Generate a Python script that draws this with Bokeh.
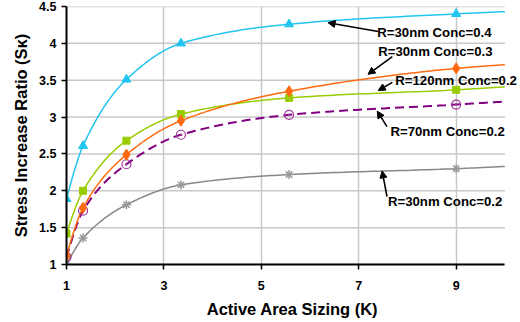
import numpy as np
from bokeh.plotting import figure
from bokeh.models import Arrow, NormalHead, Label, FixedTicker, Range1d
from bokeh.embed import file_html
from bokeh.resources import INLINE

# ---- data ----
K = [1, 1.34, 2.23, 3.35, 5.57, 9, 10]
s_r30_c04 = [1.89, 2.61, 3.51, 4.00, 4.26, 4.40, 4.43]
s_r30_c03 = [1.12, 1.77, 2.49, 2.95, 3.35, 3.66, 3.71]
s_r120_c02 = [1.42, 2.00, 2.68, 3.04, 3.26, 3.37, 3.41]
s_r70_c02 = [1.10, 1.73, 2.36, 2.76, 3.03, 3.17, 3.21]
s_r30_c02 = [1.00, 1.36, 1.81, 2.08, 2.22, 2.30, 2.33]
n_marked = 6  # markers are drawn on the first six points
x_min, x_max = 1, 10
x_ticks = [1, 3, 5, 7, 9]
y_ticks = [1, 1.5, 2, 2.5, 3, 3.5, 4, 4.5]
labels = ["R=30nm Conc=0.4", "R=30nm Conc=0.3", "R=120nm Conc=0.2",
          "R=70nm Conc=0.2", "R=30nm Conc=0.2"]


def pchip(x, y, n=30):
    x = np.asarray(x, float)
    y = np.asarray(y, float)
    h = np.diff(x)
    d = np.diff(y) / h
    m = np.zeros_like(y)
    for k in range(1, len(x) - 1):
        if d[k - 1] * d[k] > 0:
            w1 = 2 * h[k] + h[k - 1]
            w2 = h[k] + 2 * h[k - 1]
            m[k] = (w1 + w2) / (w1 / d[k - 1] + w2 / d[k])
    m0 = ((2 * h[0] + h[1]) * d[0] - h[0] * d[1]) / (h[0] + h[1])
    if np.sign(m0) != np.sign(d[0]):
        m0 = 0
    elif np.sign(d[0]) != np.sign(d[1]) and abs(m0) > abs(3 * d[0]):
        m0 = 3 * d[0]
    m[0] = m0
    mn = ((2 * h[-1] + h[-2]) * d[-1] - h[-1] * d[-2]) / (h[-1] + h[-2])
    if np.sign(mn) != np.sign(d[-1]):
        mn = 0
    m[-1] = mn
    xs, ys = [], []
    for k in range(len(x) - 1):
        t = np.linspace(0, 1, n, endpoint=(k == len(x) - 2))
        h00 = 2 * t**3 - 3 * t**2 + 1
        h10 = t**3 - 2 * t**2 + t
        h01 = -2 * t**3 + 3 * t**2
        h11 = t**3 - t**2
        xs.extend(x[k] + t * h[k])
        ys.extend(h00 * y[k] + h10 * h[k] * m[k] + h01 * y[k + 1] + h11 * h[k] * m[k + 1])
    return xs, ys


p = figure(width=518, height=320, output_backend="svg", toolbar_location=None,
           x_range=Range1d(1, 10.28), y_range=Range1d(1, 4.5),
           min_border_left=66, min_border_right=0, min_border_top=6,
           min_border_bottom=56)
p.outline_line_color = None
p.background_fill_color = "white"

FONT = "Liberation Sans"

for ax in (p.xaxis[0], p.yaxis[0]):
    ax.axis_line_color = "black"
    ax.axis_line_width = 2
    ax.major_tick_line_color = "black"
    ax.major_tick_line_width = 1.5
    ax.major_tick_in = 0
    ax.major_tick_out = 5
    ax.minor_tick_line_color = None
    ax.major_label_text_font = FONT
    ax.major_label_text_font_style = "bold"
    ax.major_label_text_font_size = "12.5px"
    ax.major_label_text_color = "black"
    ax.axis_label_text_font = FONT
    ax.axis_label_text_font_style = "bold"
    ax.axis_label_text_font_size = "16.5px"
    ax.axis_label_text_color = "black"

p.xaxis.ticker = FixedTicker(ticks=x_ticks)
p.yaxis.ticker = FixedTicker(ticks=y_ticks)
p.xaxis.bounds = (x_min, x_max)
p.xaxis.major_label_standoff = 11
p.xaxis.axis_label_standoff = 7
p.yaxis.major_label_standoff = 5
p.yaxis.axis_label_standoff = 6
p.xaxis.axis_label = "Active Area Sizing (K)"
p.yaxis.axis_label = "Stress Increase Ratio (S\u1d0b)"

p.xgrid.ticker = FixedTicker(ticks=x_ticks)
p.xgrid.grid_line_color = "#C8C8C8"
p.xgrid.grid_line_width = 1.5
p.ygrid.grid_line_color = None
# horizontal grid lines, stopping at the x-axis end
p.segment(x0=[x_min] * len(y_ticks), x1=[x_max] * len(y_ticks), y0=y_ticks, y1=y_ticks,
          line_color="#C8C8C8", line_width=1.5, level="underlay")

series = [
    (s_r70_c02, "#800080", "9 5", 2.0),
    (s_r30_c02, "#888888", "solid", 1.5),
    (s_r120_c02, "#99CC00", "solid", 1.5),
    (s_r30_c03, "#FF6A10", "solid", 1.5),
    (s_r30_c04, "#22C5F0", "solid", 1.5),
]
for ys, col, dash, lw in series:
    sx, sy = pchip(K, ys)
    p.line(sx, sy, line_color=col, line_width=lw, line_dash=dash)

km = K[:n_marked]
p.scatter(km, s_r30_c02[:n_marked], marker="asterisk", size=9,
          line_color="#999999", line_width=1.5)
p.scatter(km, s_r70_c02[:n_marked], marker="circle_dot", size=9,
          fill_color=None, line_color="#A0309A", line_width=1.2)
p.scatter(km, s_r120_c02[:n_marked], marker="square", size=7,
          fill_color="#99CC00", line_color="#99CC00")
p.scatter(km, s_r30_c03[:n_marked], marker="diamond", size=11,
          fill_color="#FF6A10", line_color="#FF6A10")
p.scatter(km, s_r30_c04[:n_marked], marker="triangle", size=9,
          fill_color="#22C5F0", line_color="#22C5F0")

# annotations: (text x, text y, arrow tail x, tail y, head x, head y)
ann = [
    (7.38, 4.15, 7.40, 4.16, 6.37, 4.28),
    (7.40, 3.89, 7.69, 3.82, 7.19, 3.58),
    (7.75, 3.50, 7.69, 3.47, 7.40, 3.36),
    (7.65, 2.81, 7.58, 2.87, 7.38, 3.08),
    (7.60, 1.85, 7.58, 1.92, 7.48, 2.27),
]
for txt, (tx, ty, ax0, ay0, ax1, ay1) in zip(labels, ann):
    p.add_layout(Arrow(end=NormalHead(size=7, fill_color="black", line_color="black"),
                       x_start=ax0, y_start=ay0, x_end=ax1, y_end=ay1,
                       line_color="black", line_width=1.6))
    p.add_layout(Label(x=tx, y=ty, text=txt, text_font=FONT, text_font_style="bold",
                       text_font_size="13.2px", text_baseline="middle",
                       text_align="left", text_color="black"))

open("out.html", "w").write(file_html(p, INLINE))
